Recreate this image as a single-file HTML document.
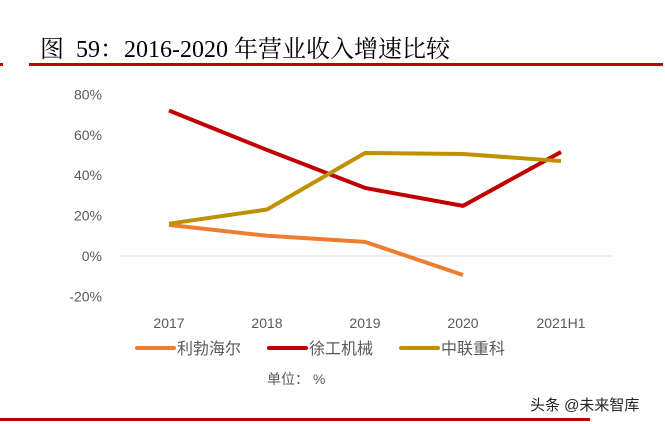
<!DOCTYPE html>
<html><head><meta charset="utf-8"><style>
body{margin:0;background:#fff;width:665px;height:424px;overflow:hidden;position:relative;font-family:"Liberation Sans","Noto Sans CJK SC",sans-serif}
</style></head><body>
<div style="position:absolute;left:40px;top:29px;font:24px 'Liberation Serif','Noto Serif CJK SC',serif;color:#000">图&nbsp; 59：2016-2020 年营业收入增速比较</div>
<div style="position:absolute;left:29px;top:63px;width:634px;height:3px;background:#c00000"></div>
<div style="position:absolute;left:0;top:63px;width:3px;height:3px;background:#c00000"></div>
<div style="position:absolute;left:0;top:418px;width:590px;height:3px;background:#c00000"></div>
<div style="position:absolute;left:530px;top:394px;font-size:15px;color:#222">头条 @未来智库</div>
<svg id="c" width="665" height="424" style="position:absolute;left:0;top:0"></svg>
<script>
const categories=["2017","2018","2019","2020","2021H1"];
const haier=[15.4,10,7,-9.4,null];
const xcmg=[72,52.5,33.7,24.8,51.5];
const zoomlion=[16,23,51,50.5,47];
const yTicks=[80,60,40,20,0,-20];
const names=["利勃海尔","徐工机械","中联重科"];
const colors=["#ed7d31","#c00000","#bf9000"];
const NS="http://www.w3.org/2000/svg",svg=document.getElementById('c');
const x=i=>169+i*98, y=v=>256-v*2.02;
function mk(t,a){const e=document.createElementNS(NS,t);for(const k in a)e.setAttribute(k,a[k]);svg.appendChild(e);return e;}
yTicks.forEach(v=>{const t=mk('text',{x:102,y:y(v)+5,'text-anchor':'end','font-size':14,fill:'#595959'});t.textContent=v+'%';

});
const g=mk('line',{x1:119,x2:612,y1:y(0),y2:y(0),stroke:'#d9d9d9','stroke-width':1});


categories.forEach((c,i)=>{const t=mk('text',{x:x(i),y:328,'text-anchor':'middle','font-size':14,fill:'#595959'});t.textContent=c;

});
[haier,xcmg,zoomlion].forEach((s,k)=>{const pts=s.map((v,i)=>v==null?null:x(i)+','+y(v)).filter(p=>p);
const p=mk('polyline',{points:pts.join(' '),fill:'none',stroke:colors[k],'stroke-width':4,'stroke-linejoin':'round'});

});
const lx=[137,269,401];
names.forEach((n,k)=>{const l=mk('line',{x1:lx[k],x2:lx[k]+37,y1:348,y2:348,stroke:colors[k],'stroke-width':4,'stroke-linecap':'round'});


const t=mk('text',{x:lx[k]+40,y:354,'font-size':16,fill:'#595959'});t.textContent=n;

});
const u=mk('text',{x:267,y:384,'font-size':14,fill:'#595959'});u.textContent='单位： %';


</script>
</body></html>
